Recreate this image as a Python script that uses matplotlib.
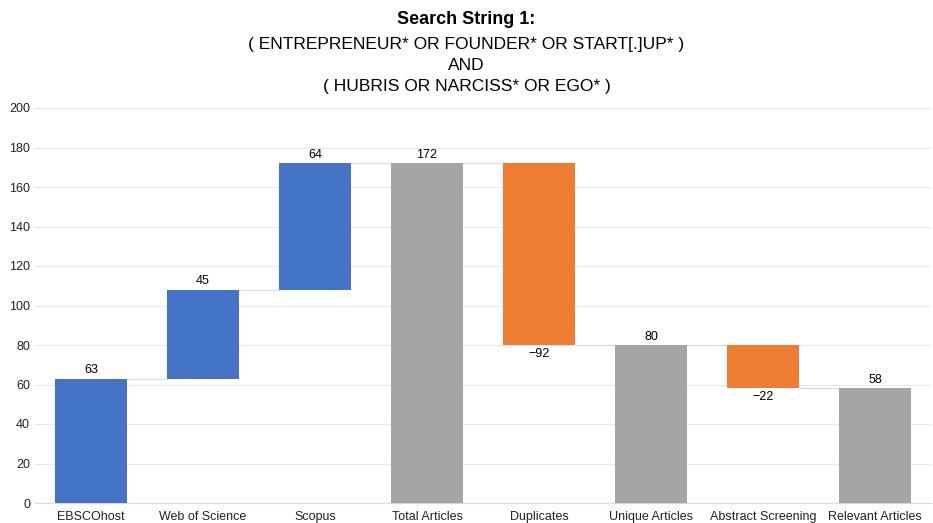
import numpy as np
import matplotlib.pyplot as plt

plt.rcParams['font.family'] = ['Liberation Sans', 'DejaVu Sans']

categories = ['EBSCOhost', 'Web of Science', 'Scopus', 'Total Articles',
              'Duplicates', 'Unique Articles', 'Abstract Screening', 'Relevant Articles']
changes = [63, 45, 64, 172, -92, 80, -22, 58]
kinds = ['inc', 'inc', 'inc', 'total', 'dec', 'total', 'dec', 'total']
title_lines = ['( ENTREPRENEUR* OR FOUNDER* OR START[.]UP* )', 'AND',
               '( HUBRIS OR NARCISS* OR EGO* )']

colors = {'inc': '#4472C4', 'dec': '#ED7D31', 'total': '#A5A5A5'}

# work out bar bottoms / tops
bottoms = []
tops = []
level = 0
for v, k in zip(changes, kinds):
    if k == 'total':
        bottoms.append(0)
        tops.append(v)
        level = v
    else:
        bottoms.append(min(level, level + v))
        tops.append(max(level, level + v))
        level = level + v

fig = plt.figure(figsize=(9.33, 5.23), dpi=100)
ax = fig.add_axes([35 / 933, 20 / 523, 896 / 933, 395 / 523])

x = np.arange(len(categories))
heights = np.array(tops) - np.array(bottoms)
ax.bar(x, heights, bottom=bottoms, width=0.65,
       color=[colors[k] for k in kinds], zorder=3)

# connectors
level = 0
ends = []
for v, k in zip(changes, kinds):
    level = v if k == 'total' else level + v
    ends.append(level)
for i in range(len(x) - 1):
    ax.plot([x[i] + 0.325, x[i + 1] - 0.325], [ends[i], ends[i]],
            color='#D9D9D9', lw=0.8, zorder=2)

# value labels
for i, (v, k) in enumerate(zip(changes, kinds)):
    if v >= 0:
        ax.text(x[i], tops[i] + 1.2, str(v), ha='center', va='bottom', fontsize=9)
    else:
        ax.text(x[i], bottoms[i] - 1.5, '\u2212' + str(-v), ha='center', va='top', fontsize=9)

ax.set_xlim(-0.5, len(x) - 0.5)
ax.set_ylim(0, 200)
ax.set_yticks(range(0, 201, 20))
ax.set_xticks(x)
ax.set_xticklabels(categories)
ax.tick_params(axis='both', length=0, labelsize=9, colors='#222222')
ax.tick_params(axis='x', pad=6)
ax.grid(axis='y', color='#E6E6E6', lw=0.8, zorder=0)
for s in ['top', 'right', 'left']:
    ax.spines[s].set_visible(False)
ax.spines['bottom'].set_color('#D9D9D9')

fig.text(0.5, 1 - 19 / 523, 'Search String 1:', ha='center', va='center',
         fontsize=13, fontweight='bold')
for i, line in enumerate(title_lines):
    fig.text(0.5, 1 - (45 + 21 * i) / 523, line, ha='center', va='center', fontsize=12.5)

fig.savefig('out.png', dpi=100)
